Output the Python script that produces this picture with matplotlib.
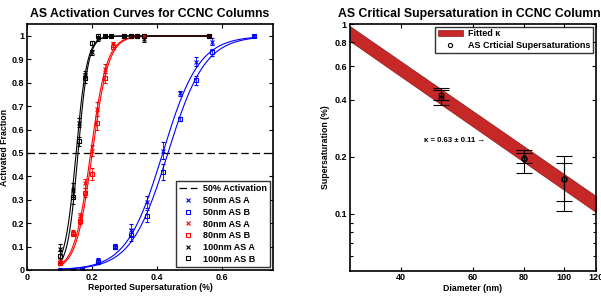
import numpy as np
import matplotlib
matplotlib.use('Agg')
from matplotlib import pyplot as plt
from matplotlib.lines import Line2D
from matplotlib.patches import Patch

plt.rcParams['font.family'] = ['Liberation Sans', 'DejaVu Sans']
plt.rcParams['font.weight'] = 'bold'

"""
    Left panel: activation fraction data
"""
ss_50 = [0.10, 0.14, 0.17, 0.22, 0.27, 0.32, 0.37, 0.42, 0.47, 0.52, 0.57, 0.70]
af_50a = [0.0, 0.0, 0.005, 0.04, 0.10, 0.17, 0.29, 0.51, 0.755, 0.89, 0.975, 1.0]
af_50b = [0.0, 0.0, 0.005, 0.035, 0.10, 0.15, 0.23, 0.42, 0.645, 0.81, 0.93, 1.0]
err_50 = [0.003, 0.003, 0.004, 0.01, 0.01, 0.025, 0.025, 0.035, 0.01, 0.02, 0.015, 0.005]

ss_80 = [0.10, 0.14, 0.163, 0.18, 0.20, 0.215, 0.24, 0.265, 0.30, 0.32, 0.34, 0.36, 0.56]
af_80a = [0.04, 0.16, 0.23, 0.37, 0.51, 0.69, 0.86, 0.965, 1.0, 1.0, 1.0, 1.0, 1.0]
af_80b = [0.03, 0.155, 0.21, 0.33, 0.41, 0.63, 0.82, 0.955, 1.0, 1.0, 1.0, 1.0, 1.0]
err_80 = [0.01, 0.01, 0.015, 0.02, 0.025, 0.03, 0.02, 0.01, 0.005, 0.005, 0.005, 0.005, 0.005]

ss_100 = [0.10, 0.14, 0.16, 0.18, 0.20, 0.22, 0.24, 0.26, 0.30, 0.32, 0.34, 0.36, 0.56]
af_100a = [0.09, 0.34, 0.63, 0.83, 0.93, 0.99, 1.0, 1.0, 1.0, 1.0, 1.0, 0.985, 1.0]
af_100b = [0.06, 0.31, 0.55, 0.82, 0.97, 1.0, 1.0, 1.0, 1.0, 1.0, 1.0, 1.0, 1.0]
err_100 = [0.02, 0.03, 0.02, 0.02, 0.01, 0.01, 0.005, 0.005, 0.005, 0.005, 0.005, 0.01, 0.005]

# fitted sigmoid parameters (centre, width) per series
fit_50a = (0.418, 0.056)
fit_50b = (0.434, 0.057)
fit_80a = (0.196, 0.025)
fit_80b = (0.201, 0.025)
fit_100a = (0.151, 0.017)
fit_100b = (0.157, 0.016)

"""
    Right panel: critical supersaturation data
"""
diam = [50, 50, 80, 80, 100, 100]
sc = [0.425, 0.41, 0.198, 0.195, 0.152, 0.152]
sc_lo = [0.373, 0.398, 0.164, 0.185, 0.104, 0.117]
sc_hi = [0.46, 0.448, 0.217, 0.209, 0.202, 0.186]

band_d = [30, 120]
band_hi = [0.976, 0.124]
band_lo = [0.815, 0.102]


def sigmoid(x, p):
    return 1.0 / (1.0 + np.exp(-(x - p[0]) / p[1]))


fig = plt.figure(figsize=(6.01, 2.97), dpi=100)

ax1 = fig.add_axes([0.045, 0.091, 0.409, 0.828])
ax1.axhline(0.5, color='k', ls='--', lw=0.9, dashes=(6, 3))

series = [
    (ss_50, af_50a, af_50b, err_50, fit_50a, fit_50b, 'b'),
    (ss_80, af_80a, af_80b, err_80, fit_80a, fit_80b, 'r'),
    (ss_100, af_100a, af_100b, err_100, fit_100a, fit_100b, 'k'),
]
for xs, ya, yb, err, pa, pb, c in series:
    xf = np.linspace(min(xs), max(xs), 200)
    ax1.plot(xf, sigmoid(xf, pa), color=c, lw=0.8)
    ax1.plot(xf, sigmoid(xf, pb), color=c, lw=0.8)
    ax1.errorbar(xs, ya, yerr=err, fmt='x', color=c, ms=2.5, mew=0.8,
                 elinewidth=0.6, capsize=1.5)
    ax1.errorbar(xs, yb, yerr=err, fmt='s', color=c, mfc='none', ms=2.5,
                 mew=0.8, elinewidth=0.6, capsize=1.5)

ax1.set_xlim(0, 0.757)
ax1.set_ylim(0, 1.051)
ax1.set_xticks([0, 0.2, 0.4, 0.6])
ax1.set_xticklabels(['0', '0.2', '0.4', '0.6'])
ax1.set_yticks(np.arange(0, 1.01, 0.1))
ax1.set_yticklabels(['0', '0.1', '0.2', '0.3', '0.4', '0.5', '0.6', '0.7', '0.8', '0.9', '1'])
ax1.tick_params(direction='in', top=True, right=True, labelsize=6.5, length=3, width=0.8, pad=2)
for s in ax1.spines.values():
    s.set_linewidth(1.2)
ax1.set_xlabel('Reported Supersaturation (%)', fontsize=6.3, fontweight='bold', labelpad=1)
ax1.set_ylabel('Activated Fraction', fontsize=6.3, fontweight='bold', labelpad=2)
ax1.set_title('AS Activation Curves for CCNC Columns', fontsize=8.8, fontweight='bold', pad=5)

handles = [Line2D([], [], color='k', ls='--', lw=0.9, dashes=(6, 3))]
labels = ['50% Activation']
for size, c in [('50nm', 'b'), ('80nm', 'r'), ('100nm', 'k')]:
    handles.append(Line2D([], [], color=c, marker='x', ls='none', ms=2.5, mew=0.8))
    labels.append(size + ' AS A')
    handles.append(Line2D([], [], color=c, marker='s', mfc='none', ls='none', ms=2.5, mew=0.8))
    labels.append(size + ' AS B')
leg = ax1.legend(handles, labels, loc='lower right', fontsize=6.5, frameon=True,
                 fancybox=False, edgecolor='k', handlelength=2.0, labelspacing=0.3,
                 borderpad=0.35, handletextpad=0.6, borderaxespad=0.35)
leg.get_frame().set_linewidth(1.0)

ax2 = fig.add_axes([0.582, 0.089, 0.41, 0.830])
ax2.set_xscale('log')
ax2.set_yscale('log')
ax2.fill_between(band_d, band_lo, band_hi, color='#c62828', lw=0.5, edgecolor='#8e1b1b')
for d, v, lo, hi in zip(diam, sc, sc_lo, sc_hi):
    ax2.errorbar([d], [v], yerr=[[v - lo], [hi - v]], fmt='o', color='k', mfc='none',
                 ms=3.5, mew=0.8, elinewidth=0.8, capsize=6, capthick=0.8)
ax2.text(54, 0.245, 'κ = 0.63 ± 0.11 →', fontsize=5.6, fontweight='bold',
         ha='center', va='center')

ax2.set_xlim(30, 120)
ax2.set_ylim(0.0503, 1)
ax2.set_xticks([40, 60, 80, 100, 120])
ax2.set_xticklabels(['40', '60', '80', '100', '120'])
ax2.set_xticks([], minor=True)
ax2.set_yticks([0.1, 0.2, 0.4, 0.6, 0.8, 1])
ax2.set_yticklabels(['0.1', '0.2', '0.4', '0.6', '0.8', '1'])
ax2.set_yticks([0.06, 0.07, 0.08, 0.09], minor=True)
ax2.yaxis.set_minor_formatter(plt.NullFormatter())
ax2.tick_params(which='both', direction='in', top=True, right=True, labelsize=6.5, width=0.8, pad=2)
ax2.tick_params(which='major', length=3)
ax2.tick_params(which='minor', length=2)
for s in ax2.spines.values():
    s.set_linewidth(1.2)
ax2.set_xlabel('Diameter (nm)', fontsize=6.3, fontweight='bold', labelpad=1)
ax2.set_ylabel('Supersaturation (%)', fontsize=6.3, fontweight='bold', labelpad=3)
ax2.set_title('AS Critical Supersaturation in CCNC Columns', fontsize=8.8, fontweight='bold', pad=5)

h2 = [Patch(facecolor='#c62828', edgecolor='#8e1b1b', lw=0.5),
      Line2D([], [], color='k', marker='o', mfc='none', ls='none', ms=3, mew=0.8)]
leg2 = ax2.legend(h2, ['Fitted κ', 'AS Crticial Supersaturations'], loc='upper right',
                  fontsize=6.5, frameon=True, fancybox=False, edgecolor='k',
                  handlelength=2.8, labelspacing=0.3, borderpad=0.3,
                  handletextpad=0.6, borderaxespad=0.3)
leg2.get_frame().set_linewidth(1.0)

fig.savefig('out.png', dpi=100)
